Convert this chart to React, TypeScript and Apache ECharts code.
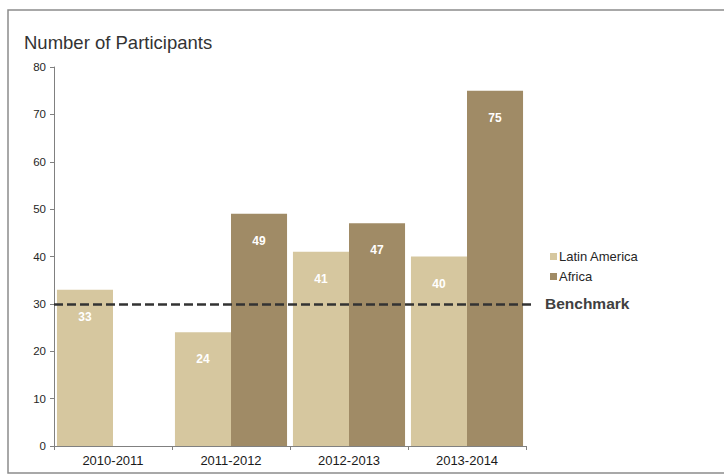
import React, { useEffect, useRef } from "react";
import * as echarts from "echarts";

const categories = ["2010-2011", "2011-2012", "2012-2013", "2013-2014"];
const latinAmerica = [33, 24, 41, 40];
const africa: (number | null)[] = [null, 49, 47, 75];
const benchmark = 30;
const yTicks = [0, 10, 20, 30, 40, 50, 60, 70, 80];

export default function App() {
  const ref = useRef<HTMLDivElement>(null);
  useEffect(() => {
    if (!ref.current) return;
    const chart = echarts.init(ref.current, null, { renderer: "svg" });
    const font = "Liberation Sans, Arial, sans-serif";
    const label = {
      show: true,
      position: "insideTop" as const,
      distance: 21,
      color: "#ffffff",
      fontSize: 12,
      fontWeight: "bold" as const,
      fontFamily: font,
    };
    chart.setOption({
      animation: false,
      textStyle: { fontFamily: font },
      graphic: [
        {
          type: "rect",
          shape: { x: 8, y: 10, width: 730, height: 463 },
          style: { fill: "none", stroke: "#8c8c8c", lineWidth: 1.5 },
          z: -1,
        },
        {
          type: "text",
          left: 24,
          top: 33,
          style: { text: "Number of Participants", fontSize: 18.5, fill: "#333333", fontFamily: font },
        },
        {
          type: "text",
          left: 545,
          top: 295,
          style: { text: "Benchmark", fontSize: 15.5, fontWeight: "bold", fill: "#404040", fontFamily: font },
        },
      ],
      legend: {
        orient: "vertical",
        left: 545,
        top: 245,
        itemWidth: 7,
        itemHeight: 7,
        itemGap: 7,
        icon: "rect",
        textStyle: { fontSize: 13, color: "#262626", fontFamily: font, padding: [0, 0, 0, -3] },
        data: ["Latin America", "Africa"],
      },
      grid: { left: 54, right: 198, top: 67, bottom: 28 },
      xAxis: {
        type: "category",
        data: categories,
        axisLine: { lineStyle: { color: "#808080", width: 1 } },
        axisTick: { show: true, length: 4, alignWithLabel: false, lineStyle: { color: "#808080" } },
        axisLabel: { color: "#1a1a1a", fontSize: 13, margin: 8, fontFamily: font },
      },
      yAxis: {
        type: "value",
        min: yTicks[0],
        max: yTicks[yTicks.length - 1],
        interval: 10,
        axisLine: { show: true, lineStyle: { color: "#808080", width: 1 } },
        axisTick: { show: true, length: 4, inside: false, lineStyle: { color: "#808080" } },
        axisLabel: { color: "#262626", fontSize: 11.5, margin: 8, fontFamily: font },
        splitLine: { show: false },
      },
      series: [
        {
          name: "Latin America",
          type: "bar",
          data: latinAmerica,
          barGap: "0%",
          barCategoryGap: "5%",
          itemStyle: { color: "#d6c79f" },
          label,
          markLine: {
            silent: true,
            symbol: "none",
            label: { show: false },
            lineStyle: { color: "#333333", type: [9, 4], width: 2.5 },
            data: [
              [
                { coord: [-0.5, benchmark], x: 54 },
                { x: 532, yAxis: benchmark },
              ],
            ],
          },
        },
        {
          name: "Africa",
          type: "bar",
          data: africa,
          barGap: "0%",
          barCategoryGap: "5%",
          itemStyle: { color: "#a08b66" },
          label,
        },
      ],
    });
    return () => chart.dispose();
  }, []);
  return <div ref={ref} style={{ width: 724, height: 474, position: "absolute", left: 0, top: 0 }} />;
}
